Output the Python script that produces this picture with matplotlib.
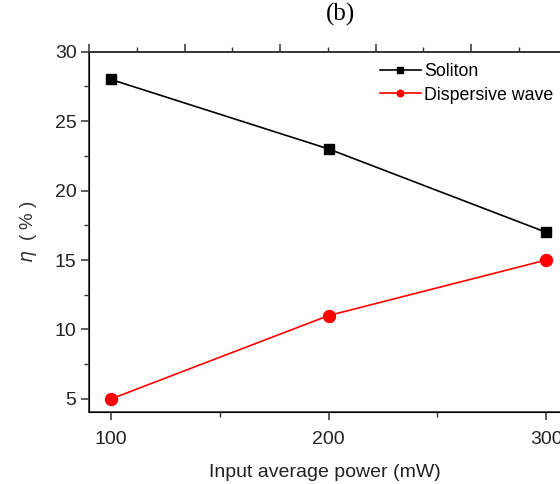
import matplotlib
matplotlib.use("Agg")
import matplotlib.pyplot as plt
from matplotlib.ticker import MultipleLocator

# data
power = [100, 200, 300]
soliton = [28, 23, 17]
dispersive = [5, 11, 15]

plt.rcParams['font.family'] = ['Liberation Sans', 'DejaVu Sans']
plt.rcParams['mathtext.fontset'] = 'dejavusans'

fig = plt.figure(figsize=(5.6, 4.84), dpi=100)
ax = fig.add_axes([89 / 560, 1 - 412 / 484, 1 - 89 / 560, (412 - 51.7) / 484])

ax.plot(power, soliton, color='black', lw=1.2, marker='s', ms=7.5,
        label='Soliton', clip_on=False, zorder=3)
ax.plot(power, dispersive, color='red', lw=1.2, marker='o', ms=8.6,
        label='Dispersive wave', clip_on=False, zorder=3)

ax.set_xlim(89.9, 306.4)
ax.set_ylim(4.06, 30)
ax.set_xticks([100, 200, 300])
ax.xaxis.set_minor_locator(MultipleLocator(50))
ax.set_yticks([5, 10, 15, 20, 25, 30])
ax.yaxis.set_minor_locator(MultipleLocator(2.5))

spine_c = '#333333'
for s in ['left', 'bottom', 'top']:
    ax.spines[s].set_color(spine_c)
    ax.spines[s].set_linewidth(1.2)
ax.spines['right'].set_visible(False)

ax.tick_params(which='major', direction='out', length=6, width=1.1,
               color=spine_c, labelsize=14, labelcolor='#222222', pad=3)
ax.tick_params(which='minor', direction='out', length=3.5, width=1.0, color=spine_c)
ax.tick_params(axis='x', which='major', pad=8)

# top axis carries its own unlabeled ticks
top = ax.twiny()
top.set_xlim(89 - 89, 560 - 89)
top.xaxis.set_major_locator(MultipleLocator(95.5))
top.xaxis.set_minor_locator(MultipleLocator(47.75))
top.tick_params(which='major', direction='out', length=6, width=1.1, color=spine_c, labeltop=False)
top.tick_params(which='minor', direction='out', length=3.5, width=1.0, color=spine_c)
top.spines['right'].set_visible(False)
top.spines['top'].set_color(spine_c)
top.spines['top'].set_linewidth(1.2)

ax.set_xlabel('Input average power (mW)', fontsize=14, color='#222222', labelpad=11)
ax.set_ylabel(r'$\eta$  ( % )', fontsize=13.5, color='#333333', labelpad=11)

leg = ax.legend(loc='upper right', bbox_to_anchor=(1.02, 1.012), frameon=False,
                fontsize=12.8, handlelength=2.3, handletextpad=0.2,
                markerscale=0.55, labelspacing=0.35)

fig.text(341 / 560, 1 - 14 / 484, '(b)', family='Liberation Serif', fontsize=18,
         ha='center', va='center')

fig.savefig('out.png', dpi=100)
